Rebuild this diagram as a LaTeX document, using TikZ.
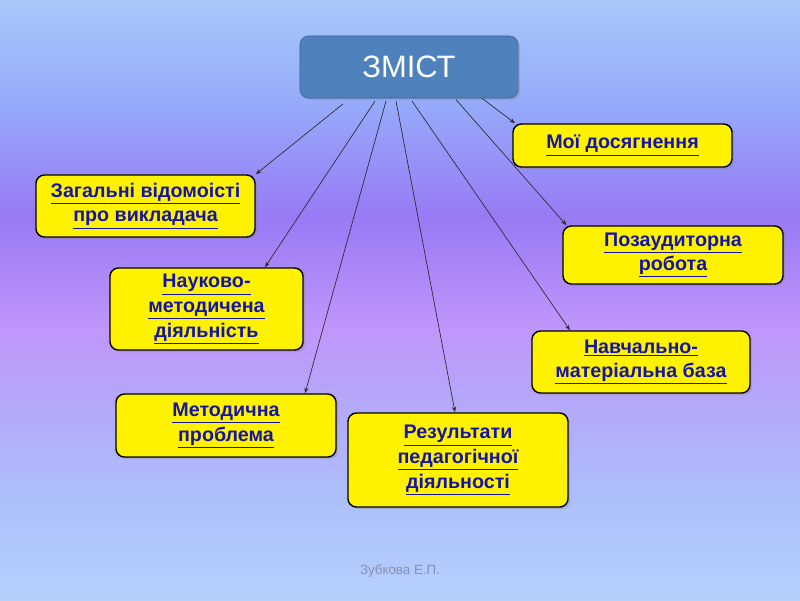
\documentclass[tikz,border=0pt]{standalone}
\usepackage{fontspec}
\setmainfont{Liberation Sans}
\usetikzlibrary{arrows.meta,shadows}
\definecolor{ink}{HTML}{2E2E3A}
\definecolor{linkblue}{HTML}{1414A8}
\definecolor{boxblue}{HTML}{4F81BD}
\definecolor{boxedge}{HTML}{3A6395}
\definecolor{note}{HTML}{8890B4}
\definecolor{bgA}{RGB}{182,208,252}
\definecolor{bgB}{RGB}{172,192,250}
\definecolor{bgC}{RGB}{178,172,250}
\definecolor{bgD}{RGB}{192,150,250}
\definecolor{bgE}{RGB}{152,122,245}
\definecolor{bgF}{RGB}{150,172,250}
\definecolor{bgG}{RGB}{168,200,250}
% stops between 25bp (bottom of the path) and 75bp (top of the path)
\pgfdeclareverticalshading{slide}{100bp}{color(0bp)=(bgA); color(25bp)=(bgA);
  color(33.3bp)=(bgB); color(40bp)=(bgC); color(47.5bp)=(bgD);
  color(57bp)=(bgE); color(66.7bp)=(bgF); color(75bp)=(bgG);
  color(100bp)=(bgG)}
\newcommand{\lnk}[1]{\underline{#1}}

\begin{document}
\begin{tikzpicture}[x=0.025cm,y=-0.025cm,
  main/.style={draw=boxedge,fill=boxblue,rounded corners=6pt,text=white,
    font=\fontsize{22}{25}\selectfont,minimum width=5.45cm,minimum height=1.55cm,
    drop shadow={shadow xshift=1.5pt,shadow yshift=-1.5pt,opacity=.3}},
  topic/.style={draw=black,line width=1pt,fill=yellow,rounded corners=6pt,
    align=center,text=linkblue,font=\fontsize{14}{17.5}\selectfont\bfseries,
    drop shadow={shadow xshift=1.5pt,shadow yshift=-1.5pt,opacity=.3}},
  link/.style={ink,line width=.5pt,-{Stealth[length=4pt,width=3pt]}}]
  \shade[shading=slide] (0,0) rectangle (800,600);

  \node[main] (zmist) at (409,67) {ЗМІСТ};

  \node[topic,minimum width=5.475cm,minimum height=1.075cm] (dosyag)
    at (622.5,145.5) {\lnk{Мої досягнення}};
  \node[topic,minimum width=5.475cm,minimum height=1.55cm] (zagal)
    at (145.5,206) {\lnk{Загальні відомоісті}\\\lnk{про викладача}};
  \node[topic,minimum width=5.5cm,minimum height=1.45cm] (pozaud)
    at (673,255) {\lnk{Позаудиторна}\\\lnk{робота}};
  \node[topic,minimum width=4.825cm,minimum height=2.05cm] (nauk)
    at (206.5,309) {\lnk{Науково-}\\\lnk{методичена}\\\lnk{діяльність}};
  \node[topic,minimum width=5.45cm,minimum height=1.55cm] (navch)
    at (641,362) {\lnk{Навчально-}\\\lnk{матеріальна база}};
  \node[topic,minimum width=5.5cm,minimum height=1.575cm] (metod)
    at (226,425.5) {\lnk{Методична}\\\lnk{проблема}};
  \node[topic,minimum width=5.5cm,minimum height=2.35cm] (rezult)
    at (458,460) {\lnk{Результати}\\\lnk{педагогічної}\\\lnk{діяльності}};

  \foreach \dx/\dy/\tgt/\ex in {-1.65cm/-4pt/zagal.north east/0cm,
      -0.85cm/-2pt/nauk.north/1.46cm, -0.575cm/-2pt/metod.north/1.975cm,
      -0.325cm/-2pt/rezult.north/-0.075cm, 0.075cm/-2pt/navch.north/-1.775cm,
      1.175cm/-1pt/pozaud.north west/3pt, 1.825cm/0pt/dosyag.north west/2pt}
    \draw[link] ([xshift=\dx,yshift=\dy]zmist.south) -- ([xshift=\ex]\tgt);

  \node[text=note,font=\fontsize{9.5}{11}\selectfont] (author) at (400,571)
    {Зубкова Е.П.};
\end{tikzpicture}
\end{document}
